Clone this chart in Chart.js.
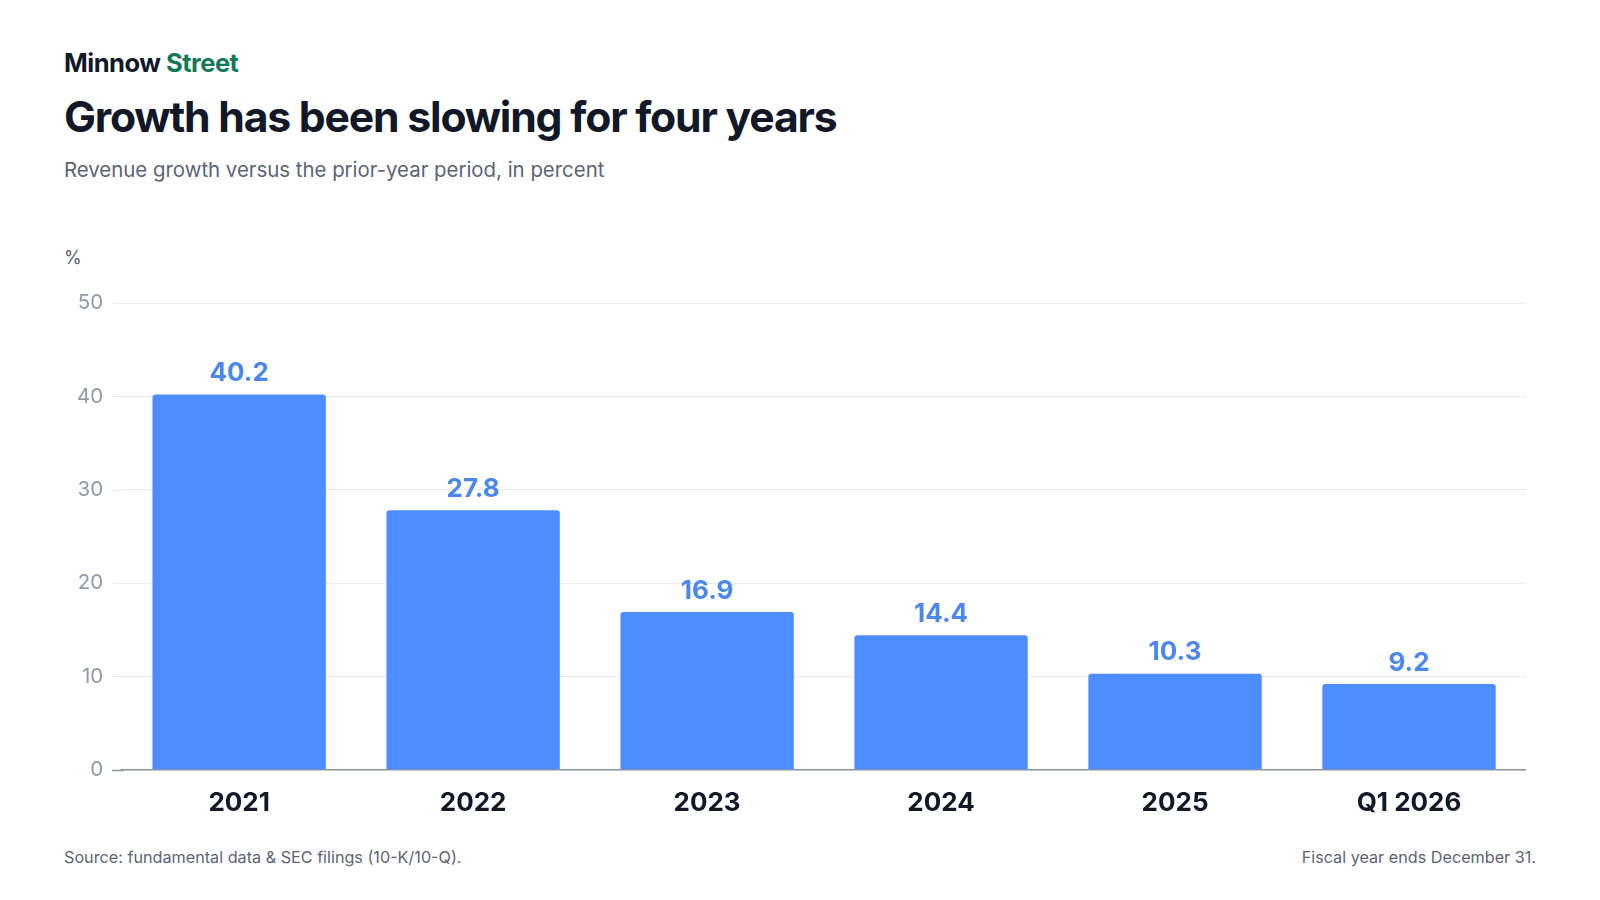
<!DOCTYPE html>
<html><head><meta charset="utf-8">
<script src="https://cdn.jsdelivr.net/npm/chart.js@4/dist/chart.umd.min.js"></script>
<style>
body{margin:0;width:1600px;height:900px;background:#fff;font-family:Inter,"Noto Sans",sans-serif;position:relative;overflow:hidden}
.t{position:absolute;left:64px;white-space:nowrap}
</style></head><body>
<div class="t" style="top:47px;font-size:25.5px;font-weight:700;color:#111827;letter-spacing:-0.5px">Minnow <span style="color:#0f7a55">Street</span></div>
<div class="t" style="top:91px;font-size:42.7px;font-weight:700;color:#111827;letter-spacing:-1.2px">Growth has been slowing for four years</div>
<div class="t" style="top:157px;font-size:20.4px;color:#5b6475">Revenue growth versus the prior-year period, in percent</div>
<div class="t" style="top:247px;font-size:18px;color:#5b6475">%</div>
<div class="t" style="top:847px;font-size:16.2px;color:#5b6475">Source: fundamental data &amp; SEC filings (10-K/10-Q).</div>
<div class="t" style="top:847px;left:auto;right:64px;font-size:16.2px;color:#5b6475">Fiscal year ends December 31.</div>
<div style="position:absolute;left:50px;top:270px;width:1476px;height:559px"><canvas id="c"></canvas></div>
<script>
const categories=["2021","2022","2023","2024","2025","Q1 2026"];
const growth=[40.2,27.8,16.9,14.4,10.3,9.2];
const yTicks=[0,10,20,30,40,50];
const EXT=10;
const labelPlugin={id:"lbl",
beforeDatasetsDraw(ch){const ctx=ch.ctx,a=ch.chartArea,y=ch.scales.y;ctx.save();
yTicks.forEach(v=>{const py=Math.round(y.getPixelForValue(v))+0.5;ctx.strokeStyle=v===0?"#8a93a6":"#e8eaee";ctx.lineWidth=v===0?1.5:1;ctx.beginPath();ctx.moveTo(a.left-EXT,py);ctx.lineTo(a.left+1,py);ctx.stroke();});ctx.restore();},
afterDatasetsDraw(ch){const ctx=ch.ctx;const m=ch.getDatasetMeta(0);ctx.save();ctx.font="700 26px Inter";ctx.fillStyle="#4a88f0";ctx.textAlign="center";ctx.textBaseline="bottom";
m.data.forEach((b,i)=>ctx.fillText(growth[i].toFixed(1),b.x,b.y-8));ctx.restore();}};
new Chart(document.getElementById("c"),{type:"bar",data:{labels:categories,datasets:[{data:growth,backgroundColor:"#4d8dff",borderRadius:{topLeft:3,topRight:3},borderSkipped:"bottom",categoryPercentage:0.741,barPercentage:1}]},
options:{responsive:true,maintainAspectRatio:false,animation:false,layout:{padding:{top:33,right:0,left:8,bottom:0}},
plugins:{legend:{display:false},tooltip:{enabled:false}},
scales:{x:{grid:{display:false},border:{color:"#8a93a6",width:1.5},ticks:{color:"#111827",font:{family:"Inter",size:26,weight:"700"},padding:10}},
y:{min:0,max:50,afterBuildTicks(a){a.ticks=yTicks.map(v=>({value:v}));},grid:{color:"#e8eaee",drawTicks:false},border:{display:false},ticks:{color:"#8f98aa",font:{family:"Inter",size:20.5},padding:9+EXT}}}},
plugins:[labelPlugin]});
</script></body></html>
